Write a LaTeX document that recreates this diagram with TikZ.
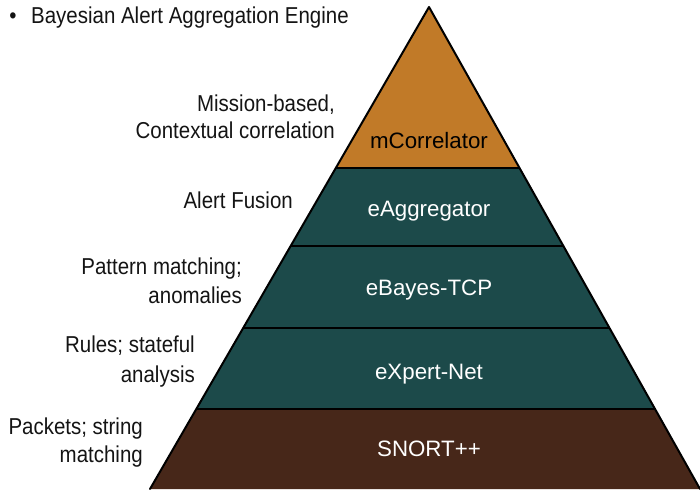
\documentclass[tikz,border=0pt]{standalone}
\usepackage{fontspec}
\setmainfont{Liberation Sans}
\newfontfamily\lblfont{Liberation Sans}[FakeStretch=0.89]
\newfontfamily\layfont{Liberation Sans}
\usetikzlibrary{calc}
\definecolor{orng}{RGB}{193,122,40}
\definecolor{tealb}{RGB}{28,74,74}
\definecolor{brwn}{RGB}{71,39,25}
\definecolor{inkc}{RGB}{20,20,20}
\begin{document}
\begin{tikzpicture}[x=1pt,y=-1pt,
  lbl/.style={anchor=base east, inner sep=0pt, font=\lblfont\fontsize{23}{27}\selectfont, text=inkc},
  lay/.style={anchor=base, inner sep=0pt, font=\layfont\fontsize{22.3}{27}\selectfont},
  edge/.style={line width=2pt, line cap=round, line join=round},
]
\useasboundingbox (0,0) rectangle (700,489);
\begin{scope}
\clip (0,0) rectangle (700,489);
\coordinate (A) at (429,7);
\coordinate (L) at (150,489);
\coordinate (R) at (700,489);
\coordinate (L1) at ($(A)!0.334!(L)$); \coordinate (R1) at ($(A)!0.334!(R)$);
\coordinate (L2) at ($(A)!0.4959!(L)$); \coordinate (R2) at ($(A)!0.4959!(R)$);
\coordinate (L3) at ($(A)!0.666!(L)$); \coordinate (R3) at ($(A)!0.666!(R)$);
\coordinate (L4) at ($(A)!0.834!(L)$); \coordinate (R4) at ($(A)!0.834!(R)$);
\fill[orng] (A) -- (L1) -- (R1) -- cycle;
\fill[tealb] (L1) -- (L4) -- (R4) -- (R1) -- cycle;
\fill[brwn] (L4) -- (L) -- (R) -- (R4) -- cycle;
\draw[line width=2.5pt] (L1) -- (R1);
\draw[line width=1.5pt] (L2) -- (R2);
\draw[line width=1.5pt] (L3) -- (R3);
\draw[line width=2.5pt] (L4) -- (R4);
\draw[edge] (L) -- (A) -- (R);
\end{scope}

\node[lay, text=black] (mc) at (429,148.3) {mCorrelator};
\node[lay, text=white] (ea) at (429,216) {eAggregator};
\node[lay, text=white] (eb) at (429,295) {eBayes-TCP};
\node[lay, text=white] (ex) at (429,379) {eXpert-Net};
\node[lay, text=white] (sn) at (429,456.7) {SNORT++};

\node[anchor=base, inner sep=0pt, font=\lblfont\fontsize{23}{27}\selectfont, text=inkc] (bul) at (13,23.3) {•};
\node[anchor=base west, inner sep=0pt, font=\lblfont\fontsize{23}{27}\selectfont, text=inkc] (title) at (31,23.3) {Bayesian Alert Aggregation Engine};

\node[lbl] (m1) at (335,111.5) {Mission-based,};
\node[lbl] (m2) at (335,138.5) {Contextual correlation};
\node[lbl] (af) at (293,208.3) {Alert Fusion};
\node[lbl] (p1) at (242,274) {Pattern matching;};
\node[lbl] (p2) at (242,303) {anomalies};
\node[lbl] (r1) at (195,352.7) {Rules; stateful};
\node[lbl] (r2) at (195,382.7) {analysis};
\node[lbl] (k1) at (143,434) {Packets; string};
\node[lbl] (k2) at (143,462.7) {matching};
\end{tikzpicture}
\end{document}
